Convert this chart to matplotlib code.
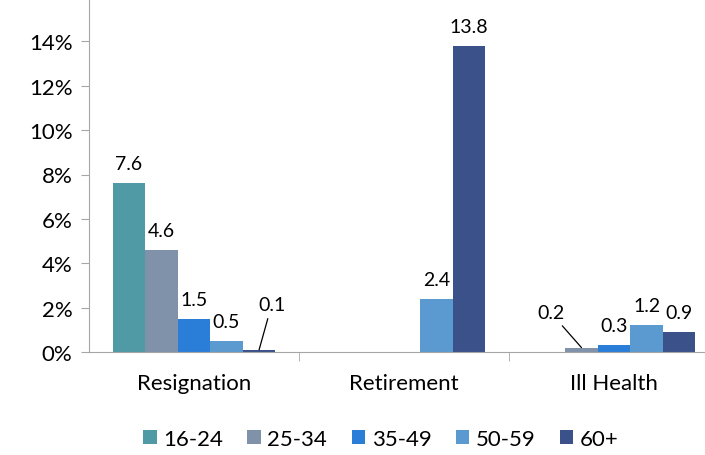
import numpy as np
import matplotlib.pyplot as plt
from matplotlib.ticker import PercentFormatter

categories = ['Resignation', 'Retirement', 'Ill Health']
age_groups = ['16-24', '25-34', '35-49', '50-59', '60+']
values = {
    '16-24': [7.6, 0, 0],
    '25-34': [4.6, 0, 0.2],
    '35-49': [1.5, 0, 0.3],
    '50-59': [0.5, 2.4, 1.2],
    '60+': [0.1, 13.8, 0.9],
}
colors = ['#4F9AA4', '#8091AA', '#2A7ED8', '#5B9AD0', '#3B5189']

plt.rcParams['font.family'] = ['Lato', 'DejaVu Sans']

fig = plt.figure(figsize=(7.05, 4.56), dpi=100)
ax = fig.add_axes([89 / 705, 1 - 353 / 456, 630 / 705, 353 / 456 + 2 / 456])

x = np.arange(len(categories))
width = 0.155
for i, g in enumerate(age_groups):
    pos = x + (i - 2) * width
    vals = values[g]
    ax.bar(pos, vals, width, color=colors[i], label=g)
    for p, v in zip(pos, vals):
        if v == 0:
            continue
        if v in (0.1, 0.2) and g in ('60+', '25-34'):
            continue
        ax.annotate(f'{v:.1f}', (p, v), xytext=(0, 8), textcoords='offset points',
                    ha='center', va='bottom', fontsize=14)

# small labels with leader lines
ax.annotate('0.1', xy=(x[0] + 2 * width, 0.1), xytext=(x[0] + 2 * width + 0.06, 1.75),
            ha='center', va='bottom', fontsize=14,
            arrowprops=dict(arrowstyle='-', color='black', lw=0.9, shrinkA=2, shrinkB=0))
ax.annotate('0.2', xy=(x[2] - width, 0.2), xytext=(x[2] - 1.95 * width, 1.4),
            ha='center', va='bottom', fontsize=14,
            arrowprops=dict(arrowstyle='-', color='black', lw=0.9, shrinkA=2, shrinkB=0))

ax.set_xlim(-0.5, 2.5)
ax.set_ylim(0, 16)
ax.set_yticks(np.arange(0, 15, 2))
ax.yaxis.set_major_formatter(PercentFormatter(decimals=0))
ax.set_xticks(x)
ax.set_xticklabels(categories, fontsize=16)
ax.set_xticks([0.5, 1.5], minor=True)
ax.tick_params(axis='x', which='major', length=0, pad=15)
ax.tick_params(axis='x', which='minor', length=6.5, color='#A6A6A6')
ax.tick_params(axis='y', labelsize=16, length=6, color='#A6A6A6', pad=6)
for s in ['top', 'right']:
    ax.spines[s].set_visible(False)
for s in ['left', 'bottom']:
    ax.spines[s].set_color('#A6A6A6')

ax.legend(loc='upper center', bbox_to_anchor=((381 - 89) / 630, -0.16),
          ncol=5, frameon=False, fontsize=16, handlelength=0.6, handleheight=0.6,
          handletextpad=0.3, columnspacing=1.1)

fig.savefig('out.png', dpi=100)
